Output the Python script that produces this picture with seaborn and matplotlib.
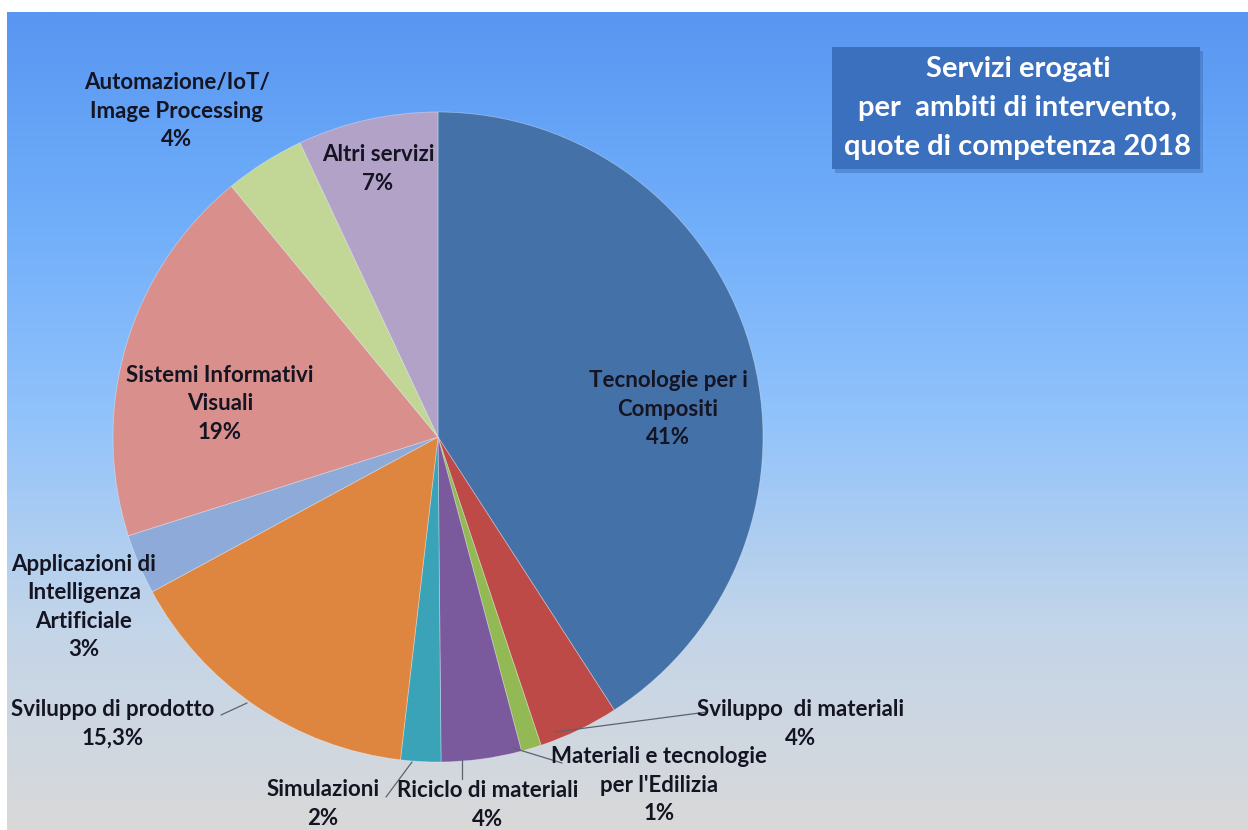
import numpy as np
import matplotlib
matplotlib.use("Agg")
import matplotlib.pyplot as plt
from matplotlib.colors import to_rgb
from matplotlib.patches import Rectangle
import seaborn as sns

# Service shares by area of intervention, 2018 (percent), clockwise from 12 o'clock
categories = [
    "Tecnologie per i\nCompositi",
    "Sviluppo  di materiali",
    "Materiali e tecnologie\nper l'Edilizia",
    "Riciclo di materiali",
    "Simulazioni",
    "Sviluppo di prodotto",
    "Applicazioni di\nIntelligenza\nArtificiale",
    "Sistemi Informativi\nVisuali",
    "Automazione/IoT/\nImage Processing",
    "Altri servizi",
]
shares = [41, 4, 1, 4, 2, 15.3, 3, 19, 4, 7]
slice_colors = [
    "#4472a8", "#bd4a47", "#93b954", "#7a5a9c", "#3aa3b8",
    "#de8640", "#8eaad8", "#d98f8c", "#c2d696", "#b3a2c8",
]
title_lines = ["Servizi erogati", "per  ambiti di intervento,", "quote di competenza 2018"]

sns.set_theme(style="white")
plt.rcParams["font.family"] = ["Lato", "DejaVu Sans"]

W, H = 1248, 830
fig = plt.figure(figsize=(W / 100, H / 100), dpi=100)
ax = fig.add_axes([0, 0, 1, 1])
ax.set_axis_off()

# vertical background gradient: bright blue at the top fading to light grey
stops = [(0.0, "#5896f2"), (0.25, "#70aefa"), (0.5, "#92c3fb"),
         (0.75, "#c3d5e9"), (1.0, "#d9d9d9")]
n = 400
t = np.linspace(0, 1, n)
pos = [s[0] for s in stops]
cols = np.array([to_rgb(s[1]) for s in stops])
grad = np.stack([np.interp(t, pos, cols[:, k]) for k in range(3)], axis=-1)
grad = grad[:, None, :]
ax.imshow(grad, extent=[7, W, 0, H - 13], aspect="auto", origin="upper", zorder=0)

# pie (y axis points up: pixel y -> H - y)
cx, cy, r = 438, H - 437, 325
wedges, _ = ax.pie(
    shares, colors=sns.color_palette(slice_colors), startangle=90,
    counterclock=False, center=(cx, cy), radius=r,
    wedgeprops=dict(linewidth=0.6, edgecolor=(1, 1, 1, 0.35)),
)
for w in wedges:
    w.set_zorder(2)


def pct(v):
    s = f"{v:.0f}" if float(v).is_integer() else f"{v}".replace(".", ",")
    return s + "%"


# label anchors (pixel x, pixel y of the text block centre) and leader lines
label_pos = [
    (668, 409), (801, 724), (659, 785), (488, 805), (323, 804),
    (113, 724), (84, 607), (220, 404), (177, 111), (378, 169),
]
leaders = {
    1: [(555, 732), (707, 712)],
    2: [(513, 748), (562, 763)],
    3: [(462, 760), (462, 779)],
    4: [(412, 762), (386, 797)],
    5: [(247, 703), (221, 715)],
}

fs = 16
step = 28.5  # pixel distance between label lines
for i, (lab, v) in enumerate(zip(categories, shares)):
    x, y = label_pos[i]
    lines = lab.split("\n") + [pct(v)]
    top = y - step * (len(lines) - 1) / 2
    for k, line in enumerate(lines):
        ax.text(x, H - (top + k * step), line, ha="center", va="center",
                fontsize=fs, fontweight="bold", color="#141422", zorder=5)
for i, pts in leaders.items():
    xs = [p[0] for p in pts]
    ys = [H - p[1] for p in pts]
    ax.plot(xs, ys, color="#5a6470", lw=0.9, zorder=4)

# title box with a soft shadow
bx0, bx1, by0, by1 = 832, 1200, 47, 169
ax.add_patch(Rectangle((bx0 + 3, H - by1 - 4), bx1 - bx0, by1 - by0,
                       facecolor="#2a4d80", alpha=0.3, lw=0, zorder=6))
ax.add_patch(Rectangle((bx0, H - by1), bx1 - bx0, by1 - by0,
                       facecolor="#3b70bf", lw=0, zorder=7))
ax.text(1018, H - 108, "\n".join(title_lines),
        ha="center", va="center", fontsize=21, fontweight="bold",
        color="white", linespacing=1.6, zorder=8)

ax.set_xlim(0, W)
ax.set_ylim(0, H)
ax.set_aspect("auto")
fig.patch.set_facecolor("white")
fig.savefig("out.png", dpi=100, facecolor="white")
